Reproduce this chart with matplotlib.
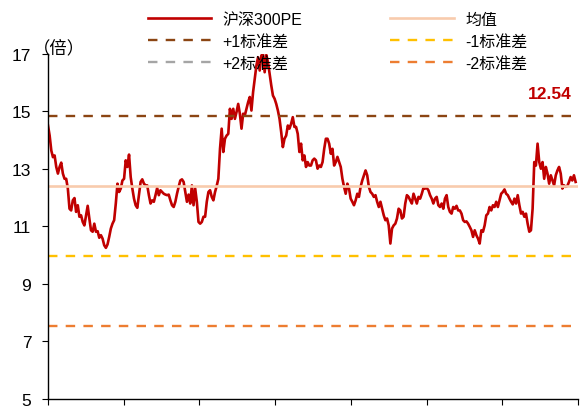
import matplotlib
matplotlib.use("Agg")
import matplotlib.pyplot as plt
import numpy as np

plt.rcParams['font.family'] = ['Liberation Sans', 'Noto Sans CJK SC']

# CSI 300 PE (left to right)
pe = [
	14.50, 14.15, 13.63, 13.40, 13.46, 13.06, 12.83, 13.06, 13.21, 12.83, 12.65, 12.65, 12.31, 11.61, 11.55, 11.90,
	11.98, 11.50, 11.73, 11.33, 11.38, 11.15, 11.03, 11.38, 11.71, 11.27, 10.86, 10.81, 11.09, 10.81, 10.83, 10.60,
	10.69, 10.57, 10.34, 10.25, 10.37, 10.63, 10.92, 11.09, 11.21, 11.79, 12.48, 12.19, 12.31, 12.59, 12.65, 13.29,
	13.06, 13.49, 12.71, 12.31,
	11.96, 11.73, 11.64, 12.08, 12.54, 12.63, 12.48, 12.42, 12.42, 12.08, 11.79, 11.90, 11.85, 12.08, 12.33, 12.08,
	12.25, 12.19, 12.13, 12.10, 12.08, 12.10, 11.90, 11.73, 11.67, 11.85, 12.13, 12.37, 12.59, 12.63, 12.54, 12.19,
	11.85, 12.10, 11.79, 12.42, 11.73, 12.31, 11.85, 11.15, 11.09, 11.15, 11.33, 11.33, 11.85, 12.19, 12.25, 12.02,
	11.90, 12.19, 12.40,
	12.65, 13.69, 14.39, 13.58, 14.04, 14.15, 14.21, 15.08, 14.73, 15.08, 14.73, 14.97, 15.25, 14.91, 14.39, 14.91,
	14.85, 15.08, 15.31, 15.49, 15.02, 15.66, 16.12, 16.58, 16.87, 16.41, 16.93, 16.99, 16.35, 16.95, 16.70, 16.29,
	15.89, 15.54, 15.43, 15.25, 15.02, 14.73, 14.27, 13.75, 14.04, 14.15, 14.50, 14.39, 14.56, 14.79, 14.45, 14.45,
	14.21, 13.58, 13.87, 13.29, 13.46, 13.06, 13.23, 13.11, 13.11, 13.29, 13.35, 13.29, 13.00, 13.11, 13.06, 13.23,
	13.69, 14.04, 14.04, 13.87, 13.52, 13.69, 13.11, 13.23, 13.41, 13.23, 13.06, 12.65, 12.37, 12.13, 12.48, 12.31,
	11.96, 11.85, 11.73, 11.90, 12.13, 12.02, 12.37, 12.59, 12.77, 12.94, 12.77, 12.37, 12.19, 12.13, 12.02, 12.08,
	11.85, 11.67, 11.85, 11.61, 11.38, 11.21,
	11.27, 11.03, 10.40, 10.92, 11.03, 11.09, 11.27, 11.61, 11.55, 11.27, 11.33, 11.79, 12.08, 12.02, 11.90, 11.79,
	12.13, 11.96, 11.79, 12.02, 11.96, 12.13, 12.33, 12.31, 12.33, 12.25, 12.08, 11.96, 11.79, 11.96, 12.02, 11.73,
	11.67, 11.79, 11.61, 11.96, 12.08, 11.67, 11.50, 11.44, 11.67, 11.61, 11.71, 11.55, 11.55, 11.44, 11.21, 11.15,
	11.17, 11.09, 10.98,
	10.86, 10.63, 10.86, 10.69, 10.57, 10.40, 10.86, 10.81, 11.03, 11.38, 11.44, 11.67, 11.55, 11.73, 11.67, 11.85,
	11.67, 11.90, 12.13, 12.19, 12.28, 12.13, 12.08, 11.96, 11.85, 11.76, 11.96, 11.79, 12.08, 11.73, 11.44, 11.50,
	11.33, 11.44, 11.09, 10.81, 10.86, 11.61, 13.23, 13.11, 13.87, 13.23, 13.00, 13.23, 12.65, 13.06, 12.83, 12.48,
	12.77, 12.59, 12.42, 12.77, 12.94, 13.06, 12.83, 12.31, 12.42, 12.37, 12.40, 12.54, 12.71, 12.59, 12.77, 12.54,
]

meanPE = 12.41
stdPE = 2.43
lastLabel = "12.54"

labels = ["沪深300PE", "+1标准差", "+2标准差", "均值", "-1标准差", "-2标准差"]
yTicks = [5, 7, 9, 11, 13, 15, 17]

x = np.arange(len(pe))
xmax = len(pe) - 1 + 1.5

fig = plt.figure(figsize=(5.81, 4.10), dpi=100)
ax = fig.add_axes([0.0826, 0.0244, 0.9124, 0.8426])

dash = (4, 3.5)
lPE, = ax.plot(x, pe, color='#C00000', linewidth=1.9, label=labels[0])
lP1 = ax.axhline(meanPE + stdPE, color='#8B4513', linewidth=1.7, dashes=dash, label=labels[1])
lP2 = ax.axhline(meanPE + 2 * stdPE, color='#A5A5A5', linewidth=1.7, dashes=dash, label=labels[2])
lMean = ax.axhline(meanPE, color='#F8CBAD', linewidth=1.9, label=labels[3])
lM1 = ax.axhline(meanPE - stdPE, color='#FFC000', linewidth=1.7, dashes=dash, label=labels[4])
lM2 = ax.axhline(meanPE - 2 * stdPE, color='#ED7D31', linewidth=1.7, dashes=dash, label=labels[5])

ax.set_xlim(0, xmax)
ax.set_ylim(5, 17)
ax.set_yticks(yTicks)
ax.set_xticks(np.linspace(0, xmax, 8))
ax.set_xticklabels([])
ax.tick_params(axis='y', labelsize=12.5, length=4, direction='out', pad=8)
ax.tick_params(axis='x', length=4, direction='out')
for s in ['top', 'right']:
	ax.spines[s].set_visible(False)
for s in ['left', 'bottom']:
	ax.spines[s].set_linewidth(1)

ax.text((572 - 48) / 530, 15.6, lastLabel, color='#C00000', fontsize=12.5, fontweight='bold', ha='right', va='center',
	transform=ax.get_yaxis_transform())
fig.text(59 / 581, 1 - 48 / 410, "（倍）", fontsize=12.5, ha='center', va='center',
	family=['Noto Sans CJK SC', 'DejaVu Sans'])

fig.legend(handles=[lPE, lP1, lP2, lMean, lM1, lM2], ncol=2, frameon=False, fontsize=11.5,
	loc='upper left', bbox_to_anchor=(138 / 581, 1 - 3 / 410), handlelength=4.0, columnspacing=5.5,
	labelspacing=0.45, handletextpad=0.7, borderaxespad=0.2)

fig.savefig("out.png", dpi=100)
